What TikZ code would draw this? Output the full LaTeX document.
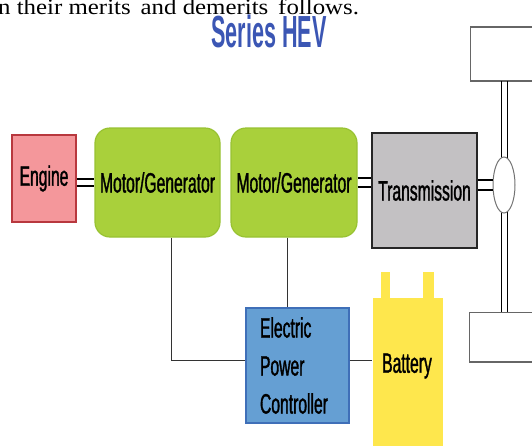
\documentclass[tikz,border=0pt]{standalone}
\usepackage{fontspec}
\usetikzlibrary{shapes.geometric}
\setmainfont{Liberation Serif}
\newfontfamily\topfont[FakeStretch=1.13]{Liberation Serif}
\newfontfamily\nar[FakeStretch=0.56,FakeBold=1.2]{Liberation Sans}
\newfontfamily\titlefont[FakeStretch=0.48]{Liberation Sans}
\definecolor{engfill}{HTML}{F4979B}
\definecolor{engdraw}{HTML}{B8383E}
\definecolor{mgfill}{HTML}{A9D03B}
\definecolor{mgdraw}{HTML}{98C232}
\definecolor{trfill}{HTML}{C3C1C3}
\definecolor{epcfill}{HTML}{659FD3}
\definecolor{epcdraw}{HTML}{3F6FB8}
\definecolor{batfill}{HTML}{FEE74D}
\definecolor{titleblue}{HTML}{3B56B4}
\begin{document}
\begin{tikzpicture}[x=1pt,y=-1pt,
  box/.style={draw, line width=1.2pt, inner sep=0pt, font=\nar\fontsize{28}{30}\selectfont},
  conn/.style={draw=black!80, line width=0.8pt},
  shaft/.style={line width=2.6pt, black},
  axle/.style={line width=0.8pt, black},
  wheel/.style={draw=black!60, line width=1pt, fill=white}]
\useasboundingbox (0,0) rectangle (532,445);
% top text
\node[anchor=base west, inner sep=0pt, font=\topfont\fontsize{22}{24}\selectfont] (txt) at (-2,14) {n their merits\, and demerits\, follows.};
\node[inner sep=0pt, text=titleblue, font=\titlefont\bfseries\fontsize{45}{46}\selectfont] (title) at (269,31) {Series HEV};
% wheels
\node[wheel, minimum width=75pt, minimum height=53pt, anchor=north west] (wtop) at (470,27) {};
\node[wheel, minimum width=75pt, minimum height=49pt, anchor=north west] (wbot) at (469,312) {};
\draw[black!60, line width=2.5pt] (wtop.north west) -- (wtop.north east);
\draw[black!60, line width=2.5pt] (wtop.south west) -- (wtop.south east);
\draw[black!60, line width=2.5pt] (wbot.south west) -- (wbot.south east);
\draw[axle] (wtop.south -| 501,0) -- (wbot.north -| 501,0);
\draw[axle] (wtop.south -| 507,0) -- (wbot.north -| 507,0);
\node[draw=black!55, line width=1pt, fill=white, ellipse, minimum width=22pt, minimum height=56pt, inner sep=0pt] (diff) at (504,185) {};
% blocks
\node[box, fill=engfill, draw=engdraw, minimum width=64pt, minimum height=87pt] (eng) at (44,178.5) {Engine};
\node[box, fill=mgfill, draw=mgdraw, rounded corners=15pt, minimum width=125pt, minimum height=109pt] (mg1) at (157.5,182.5) {Motor/Generator};
\node[box, fill=mgfill, draw=mgdraw, rounded corners=15pt, minimum width=126pt, minimum height=109pt] (mg2) at (294,182.5) {Motor/Generator};
\node[box, fill=trfill, draw=black!85, minimum width=105pt, minimum height=115pt] (tr) at (424.5,190.5) {Transmission};
\node[box, fill=epcfill, draw=epcdraw, minimum height=115pt, text width=75pt, inner xsep=14pt, align=left, font=\nar\fontsize{28}{38}\selectfont] (epc) at (297.5,365.5) {Electric\\Power\\Controller};
\node[box, draw=none, fill=batfill, minimum width=70pt, minimum height=160pt, anchor=north west] (bat) at (372,297) {};
\node[inner sep=0pt, font=\nar\fontsize{28}{30}\selectfont] (batlbl) at (407,366) {Battery};
\fill[batfill] (381,272) rectangle (390,298);
\fill[batfill] (423,272) rectangle (434,298);
% shafts
\draw[shaft] (eng.east |- 0,179) -- (mg1.west |- 0,179);
\draw[shaft] (eng.east |- 0,186) -- (mg1.west |- 0,186);
\draw[shaft] (mg2.east |- 0,178) -- (tr.west |- 0,178);
\draw[shaft] (mg2.east |- 0,187) -- (tr.west |- 0,187);
\draw[shaft] (tr.east |- 0,180) -- (diff.west |- 0,180);
\draw[shaft] (tr.east |- 0,190) -- (diff.west |- 0,190);
% electrical connections
\coordinate (c1) at (171,360);
\draw[conn] (mg1.south -| c1) -- (c1) -- (epc.west |- c1);
\draw[conn] (mg2.south -| 287,0) -- (epc.north -| 287,0);
\draw[conn] (epc.east |- c1) -- (bat.west |- c1);
\end{tikzpicture}
\end{document}
